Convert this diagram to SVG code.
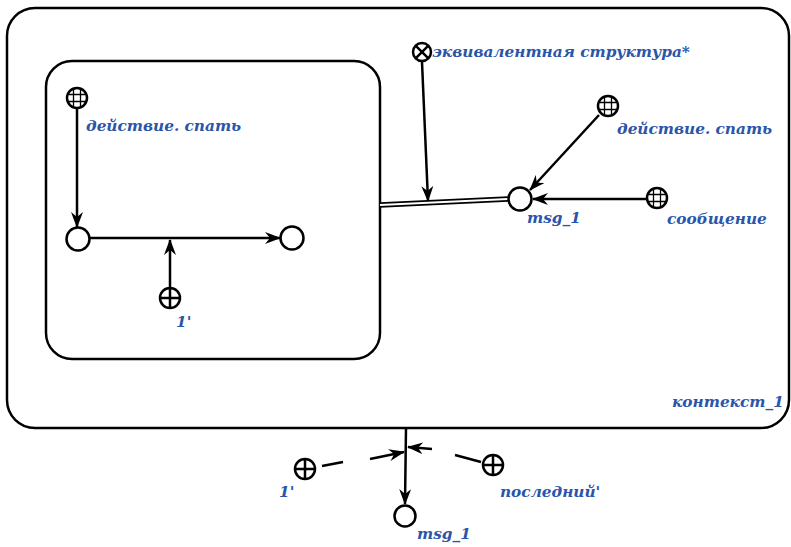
<svg xmlns="http://www.w3.org/2000/svg" width="791" height="547" viewBox="0 0 791 547">
<style>
.frame{fill:none;stroke:#000;stroke-width:2.5}
.node{fill:#fff;stroke:#000;stroke-width:2.5}
.ring{fill:none;stroke:#000;stroke-width:2.5}
.grid{fill:none;stroke:#000;stroke-width:1.3}
.cross{fill:none;stroke:#000;stroke-width:2.5}
.edge{fill:none;stroke:#000;stroke-width:2.5}
.lbl{font-family:"DejaVu Serif","Liberation Serif",serif;font-weight:bold;font-style:italic;font-size:15.3px;fill:#2a55aa}
</style>
<defs>
<marker id="arr" viewBox="0 0 16 12" refX="15" refY="6" markerWidth="16" markerHeight="12" markerUnits="userSpaceOnUse" orient="auto">
<path d="M0,0 L16,6 L0,12 L5,6 z" fill="#000"/>
</marker>
</defs>
<rect width="791" height="547" fill="#fff"/>
<g id="context">
<rect class="frame" x="7" y="8" width="782" height="420" rx="28"/>
<text class="lbl" x="672" y="407">контекст_1</text>
</g>
<g id="structure">
<rect class="frame" x="46" y="61" width="334" height="298" rx="26"/>
</g>
<g id="connectors">
<line class="edge" x1="77" y1="109" x2="77" y2="227" marker-end="url(#arr)"/>
<line class="edge" x1="90" y1="238" x2="280" y2="238" marker-end="url(#arr)"/>
<line class="edge" x1="170" y1="287" x2="170" y2="240" marker-end="url(#arr)"/>
<line x1="380" y1="205" x2="508" y2="199" stroke="#000" stroke-width="5.5"/>
<line x1="380" y1="205" x2="508" y2="199" stroke="#fff" stroke-width="2"/>
<line class="edge" x1="422" y1="62" x2="428" y2="201" marker-end="url(#arr)"/>
<line class="edge" x1="599" y1="115" x2="530" y2="190" marker-end="url(#arr)"/>
<line class="edge" x1="646" y1="199" x2="533" y2="199" marker-end="url(#arr)"/>
<line class="edge" x1="406" y1="428" x2="405" y2="504" marker-end="url(#arr)"/>
<line class="edge" x1="322" y1="466" x2="343" y2="462"/>
<line class="edge" x1="370" y1="459" x2="404" y2="452" marker-end="url(#arr)"/>
<line class="edge" x1="481" y1="462" x2="455" y2="455"/>
<line class="edge" x1="432" y1="449" x2="408" y2="447" marker-end="url(#arr)"/>
</g>
<g id="n-action-inner">
<circle cx="77" cy="98" r="10" fill="#fff"/>
<path class="grid" d="M73.5,88 V108 M80.5,88 V108 M67,94.5 H87 M67,101.5 H87"/>
<circle class="ring" cx="77" cy="98" r="10"/>
<text class="lbl" x="86" y="131">действие. спать</text>
</g>
<g id="n-c1"><circle class="node" cx="78" cy="239" r="11.5"/></g>
<g id="n-c2"><circle class="node" cx="292" cy="238" r="11.5"/></g>
<g id="n-one-inner">
<circle class="node" cx="170" cy="298" r="10"/>
<path class="cross" d="M170,288 V308 M160,298 H180"/>
<text class="lbl" x="176" y="327">1'</text>
</g>
<g id="n-equiv">
<circle class="node" cx="422" cy="52" r="9"/>
<path class="cross" d="M415.6,45.6 L428.4,58.4 M428.4,45.6 L415.6,58.4"/>
<text class="lbl" x="432" y="57">эквивалентная структура*</text>
</g>
<g id="n-msg1">
<circle class="node" cx="520" cy="199" r="11.5"/>
<text class="lbl" x="527" y="223">msg_1</text>
</g>
<g id="n-action-outer">
<circle cx="608" cy="106" r="10" fill="#fff"/>
<path class="grid" d="M604.5,96 V116 M611.5,96 V116 M598,102.5 H618 M598,109.5 H618"/>
<circle class="ring" cx="608" cy="106" r="10"/>
<text class="lbl" x="617" y="134">действие. спать</text>
</g>
<g id="n-message">
<circle cx="657" cy="198" r="10" fill="#fff"/>
<path class="grid" d="M653.5,188 V208 M660.5,188 V208 M647,194.5 H667 M647,201.5 H667"/>
<circle class="ring" cx="657" cy="198" r="10"/>
<text class="lbl" x="667" y="224">сообщение</text>
</g>
<g id="n-msg1-bottom">
<circle class="node" cx="405" cy="516" r="10.5"/>
<text class="lbl" x="417" y="539">msg_1</text>
</g>
<g id="n-one-bottom">
<circle class="node" cx="305" cy="469" r="10"/>
<path class="cross" d="M305,459 V479 M295,469 H315"/>
<text class="lbl" x="279" y="497">1'</text>
</g>
<g id="n-last">
<circle class="node" cx="493" cy="465" r="10"/>
<path class="cross" d="M493,455 V475 M483,465 H503"/>
<text class="lbl" x="500" y="497">последний'</text>
</g>
</svg>
